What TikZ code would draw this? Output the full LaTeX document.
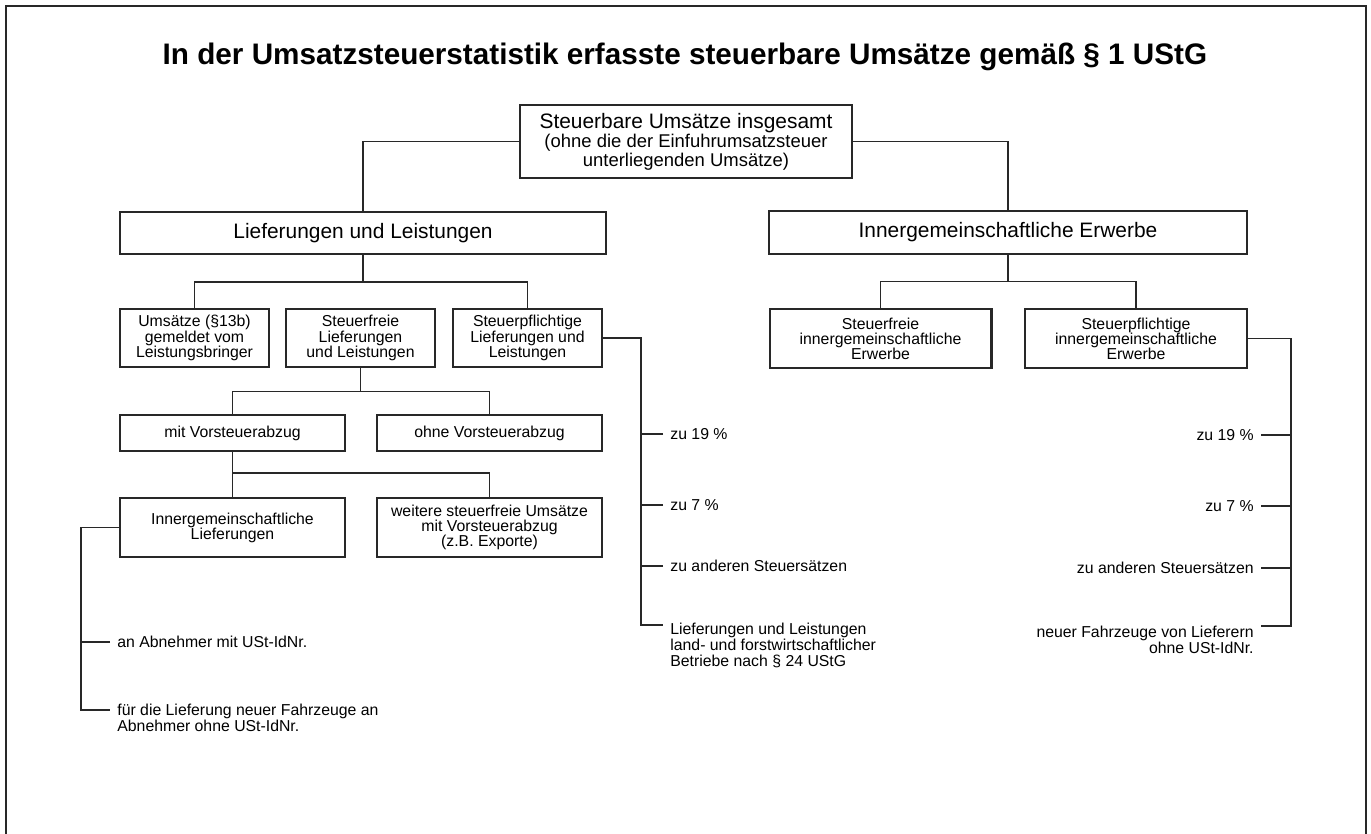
\documentclass[tikz,border=0pt]{standalone}
\usepackage{fontspec}
\setmainfont{Liberation Sans}
\usetikzlibrary{calc}

\begin{document}
\begin{tikzpicture}[x=0.02cm,y=-0.02cm,
    box/.style={draw=linegray,line width=1.15pt,align=center,inner sep=1pt,
      font=\fontsize{9}{8.6}\selectfont},
    bigbox/.style={box,font=\fontsize{11.9}{12}\selectfont},
    lbl/.style={align=left,inner sep=4pt,font=\fontsize{9}{9}\selectfont},
    rlbl/.style={align=right,inner sep=4pt,font=\fontsize{9}{9}\selectfont},
    conn/.style={draw=linegray,line width=0.8pt}]

\definecolor{linegray}{RGB}{40,40,40}

\useasboundingbox (0,0) rectangle (1371,834);
\draw[linegray,line width=1.1pt] (6,834) -- (6,6) -- (1366,6) -- (1366,834);

\node[anchor=base,font=\bfseries\fontsize{16.9}{18}\selectfont] (title) at (685,65) {In der Umsatzsteuerstatistik erfasste steuerbare Umsätze gemäß § 1 UStG};

% top level
\node[bigbox,minimum width=6.64cm,minimum height=1.46cm,font=\fontsize{10.5}{10.8}\selectfont] (total) at (686,141.5) {{\fontsize{11.9}{12}\selectfont Steuerbare Umsätze insgesamt}\\(ohne die der Einfuhrumsatzsteuer\\unterliegenden Umsätze)};
\node[bigbox,minimum width=9.72cm,minimum height=0.84cm] (lul) at (363,233) {Lieferungen und Leistungen};
\node[bigbox,minimum width=9.56cm,minimum height=0.86cm] (ige) at (1008,232.5) {Innergemeinschaftliche Erwerbe};

% Lieferungen und Leistungen
\node[box,minimum width=2.98cm,minimum height=1.16cm] (rc) at (194.5,338) {Umsätze (§13b)\\gemeldet vom\\Leistungsbringer};
\node[box,minimum width=2.98cm,minimum height=1.16cm] (sf) at (360.5,338) {Steuerfreie\\Lieferungen\\und Leistungen};
\node[box,minimum width=2.98cm,minimum height=1.16cm] (sp) at (527.5,338) {Steuerpflichtige\\Lieferungen und\\Leistungen};
\node[box,minimum width=4.5cm,minimum height=0.72cm] (mit) at (232.5,433) {mit Vorsteuerabzug};
\node[box,minimum width=4.5cm,minimum height=0.72cm] (ohne) at (489.5,433) {ohne Vorsteuerabzug};
\node[box,minimum width=4.5cm,minimum height=1.18cm] (igl) at (232.5,527.5) {Innergemeinschaftliche\\Lieferungen};
\node[box,minimum width=4.5cm,minimum height=1.18cm] (wst) at (489.5,527.5) {weitere steuerfreie Umsätze\\mit Vorsteuerabzug\\(z.B. Exporte)};

% Innergemeinschaftliche Erwerbe
\node[box,minimum width=4.44cm,minimum height=1.18cm] (sfie) at (880.5,338.5) {Steuerfreie\\innergemeinschaftliche\\Erwerbe};
\node[box,minimum width=4.44cm,minimum height=1.18cm] (spie) at (1136,338.5) {Steuerpflichtige\\innergemeinschaftliche\\Erwerbe};

\draw[conn] (total.west) -| (lul.north);
\draw[conn] (total.east) -| (ige.north);

\coordinate (lulbar) at (363,282);
\draw[conn] (lul.south) -- (lulbar);
\draw[conn] (rc.north) |- (lulbar) -| (sp.north);

\coordinate (sfbar) at (360.5,391.5);
\draw[conn] (sf.south) -- (sfbar);
\draw[conn] (mit.north) |- (sfbar) -| (ohne.north);

\coordinate (mitbar) at (232.5,473);
\draw[conn] (mit.south) -- (igl.north);
\draw[conn] (mitbar) -| (wst.north);

\coordinate (igebar) at (1008,281.5);
\draw[conn] (ige.south) -- (igebar);
\draw[conn] (sfie.north) |- (igebar) -| (spie.north);

% Steuersaetze (Lieferungen und Leistungen)
\node[lbl,anchor=west] (sp19) at (663,434) {zu 19 \%};
\node[lbl,anchor=west] (sp7) at (663,505) {zu 7 \%};
\node[lbl,anchor=west] (spand) at (663,566) {zu anderen Steuersätzen};
\node[lbl,anchor=north west] (splf) at (663,616) {Lieferungen und Leistungen\\land- und forstwirtschaftlicher\\Betriebe nach § 24 UStG};
\coordinate (spend) at (641,625);
\draw[conn] (sp.east) -| (spend) -- (spend -| splf.west);
\foreach \n in {sp19,sp7,spand}
  \draw[conn] (\n.west) -- (\n.west -| spend);

% Innergemeinschaftliche Lieferungen
\node[lbl,anchor=west] (iglmit) at (110,642) {an Abnehmer mit USt-IdNr.};
\node[lbl,anchor=north west] (iglohne) at (110,697) {für die Lieferung neuer Fahrzeuge an\\Abnehmer ohne USt-IdNr.};
\coordinate (iglend) at (81,710);
\draw[conn] (igl.west) -| (iglend) -- (iglend -| iglohne.west);
\draw[conn] (iglmit.west) -- (iglmit.west -| iglend);

% Steuersaetze (Erwerbe)
\node[rlbl,anchor=east] (spie19) at (1261,435) {zu 19 \%};
\node[rlbl,anchor=east] (spie7) at (1261,506) {zu 7 \%};
\node[rlbl,anchor=east] (spieand) at (1261,568) {zu anderen Steuersätzen};
\node[rlbl,anchor=north east] (spielf) at (1261,619) {neuer Fahrzeuge von Lieferern\\ohne USt-IdNr.};
\coordinate (spieend) at (1291,626);
\draw[conn] (spie.east) -| (spieend) -- (spieend -| spielf.east);
\foreach \n in {spie19,spie7,spieand}
  \draw[conn] (\n.east) -- (\n.east -| spieend);

\end{tikzpicture}
\end{document}
